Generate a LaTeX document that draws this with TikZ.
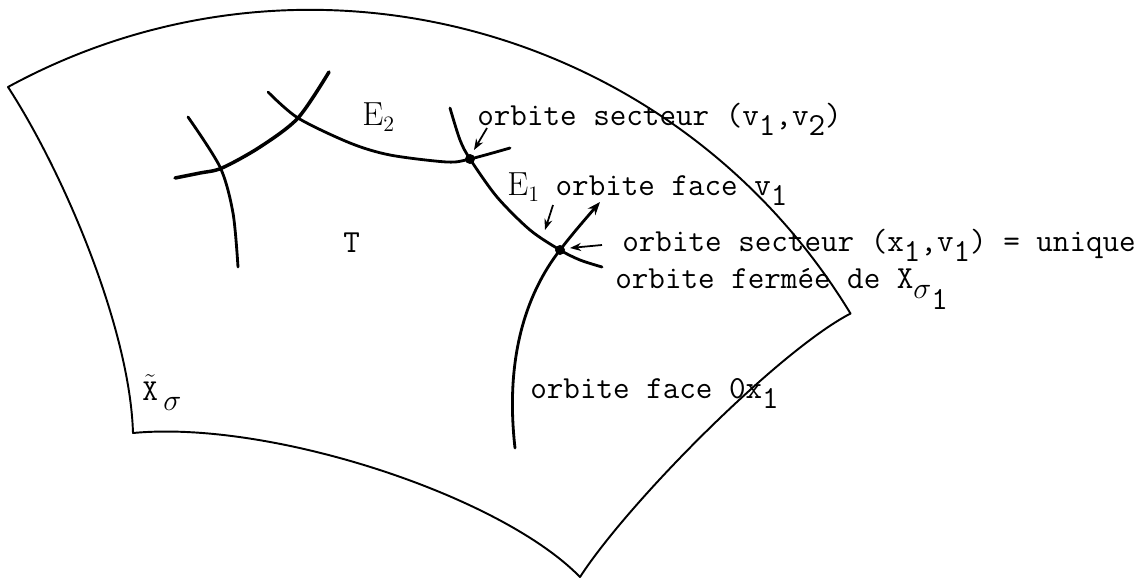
\documentclass[tikz,border=0pt]{standalone}
\usepackage{amsmath}
\usepackage{tikz}
\usetikzlibrary{arrows.meta}
\newcommand{\low}[1]{\raisebox{-0.33em}{#1}}
\newcommand{\Elab}[1]{{\rmfamily\fontsize{19}{22}\selectfont E\raisebox{-0.2em}{\fontsize{12.5}{14}\selectfont #1}}}

\begin{document}
\begin{tikzpicture}[x=0.2mm, y=-0.2mm, font=\ttfamily\fontsize{18.3}{22}\selectfont,
  rim/.style={line width=1.1pt, line join=round},
  orbit/.style={line width=1.6pt, line cap=round},
  pointer/.style={-{Stealth[length=2.2mm, width=1.6mm]}, line width=1pt},
  lbl/.style={anchor=base west, inner sep=0pt}]
\useasboundingbox (0,0) rectangle (1145,578);
% bord
\draw[rim] (8,87) arc[start angle=-118.6, end angle=-31.3, radius=632]
  .. controls (780,350) and (630,500) .. (580,577)
  .. controls (500,495) and (270,420) .. (133,433)
  .. controls (130,330) and (65,175) .. (8,87) -- cycle;
% orbites
\draw[orbit] plot[smooth] coordinates {(188,117) (220,167) (233,213) (238,267)};
\draw[orbit, line width=2pt] plot[smooth] coordinates {(175,178) (200,173) (222,168) (260,147) (298,118) (329,72)};
\draw[orbit] plot[smooth] coordinates {(268,92) (298,118) (350,143) (390,155) (447,162) (470,159) (510,148)};
\draw[orbit] plot[smooth] coordinates {(450,108) (460,140) (470,159) (497,197) (530,230) (560,250) (580,260) (602,267)};
\coordinate (p1) at (470,159);
\coordinate (p2) at (560,250);
\draw[orbit, -{Stealth[length=2.6mm, width=2mm]}] (515,448) .. controls (505,360) and (525,295) .. (p2)
  .. controls (573,233) and (588,216) .. (600,202);
\foreach \p in {p1,p2}
  \fill (\p) circle[radius=5];
% textes
\node[lbl] (e2) at (362,125) {\Elab{2}};
\node[lbl] (tt) at (343,252) {T};
\node[lbl] (xs) at (142,400) {$\tilde{\mathtt{X}}$\kern3pt\low{$\sigma$}};
\node[lbl] (sv) at (477,125) {orbite secteur (v\low{1},v\low{2})};
\node[lbl] (fv) at (507,195) {\Elab{1} orbite face v\low{1}};
\node[lbl] (sx) at (622,251) {orbite secteur (x\low{1},v\low{1}) = unique};
\node[lbl] (ff) at (615,288) {orbite fermée de X\low{$\sigma$\low{1}}};
\node[lbl] (fx) at (530,398) {orbite face 0x\low{1}};
% fleches
\coordinate (a1) at (487,128);
\coordinate (b1) at (474,150);
\coordinate (a2) at (553,205);
\coordinate (b2) at (545,230);
\coordinate (a3) at (602,245);
\coordinate (b3) at (570,248);
\draw[pointer] (a1) -- (b1);
\draw[pointer] (a2) -- (b2);
\draw[pointer] (a3) -- (b3);
\end{tikzpicture}
\end{document}
